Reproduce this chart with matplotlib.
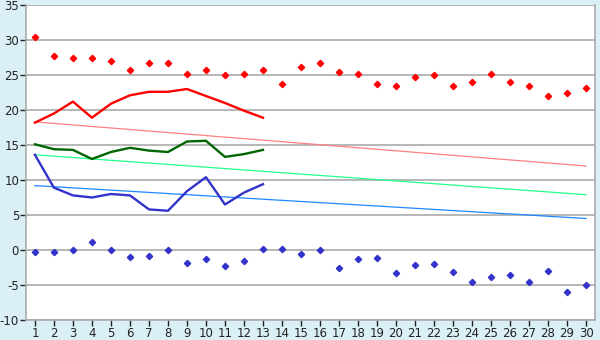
import matplotlib
matplotlib.use("Agg")
import matplotlib.pyplot as plt
import numpy as np

days = list(range(1, 31))
max_pts = [30.5, 27.7, 27.4, 27.4, 27.0, 25.7, 26.7, 26.7, 25.2, 25.7,
           25.0, 25.1, 25.7, 23.7, 26.2, 26.7, 25.5, 25.1, 23.7, 23.4,
           24.7, 25.0, 23.4, 24.0, 25.1, 24.0, 23.4, 22.0, 22.4, 23.1]
min_pts = [-0.3, -0.3, 0.0, 1.1, 0.0, -1.0, -0.8, 0.0, -1.9, -1.3,
           -2.3, -1.5, 0.1, 0.1, -0.5, 0.0, -2.6, -1.3, -1.2, -3.3,
           -2.2, -2.0, -3.2, -4.5, -3.9, -3.6, -4.6, -3.0, -6.0, -5.0]
line_days = list(range(1, 14))
red_line = [18.2, 19.5, 21.2, 18.9, 20.9, 22.1, 22.6, 22.6, 23.0, 22.0, 21.0, 19.9, 18.9]
green_line = [15.1, 14.4, 14.3, 13.0, 14.0, 14.6, 14.2, 14.0, 15.5, 15.6, 13.3, 13.7, 14.3]
blue_line = [13.6, 8.9, 7.8, 7.5, 8.0, 7.8, 5.8, 5.6, 8.4, 10.4, 6.5, 8.2, 9.4]
trend_days = [1, 30]
red_trend = [18.3, 12.0]
green_trend = [13.6, 7.9]
blue_trend = [9.2, 4.5]
yticks = [-10, -5, 0, 5, 10, 15, 20, 25, 30, 35]

bg = "#DAEFF6"
fig = plt.figure(figsize=(6, 3.4), dpi=100, facecolor=bg)
ax = fig.add_axes([26/600, 20/340, (595-26)/600, (320-5)/340])
ax.set_facecolor("white")

for y in yticks:
    ax.axhline(y, color="#AAAAAA", lw=1.2, zorder=1)

ax.plot(trend_days, red_trend, color="#FF8080", lw=0.9, zorder=2)
ax.plot(trend_days, green_trend, color="#22FF88", lw=0.9, zorder=2)
ax.plot(trend_days, blue_trend, color="#1E88FF", lw=0.9, zorder=2)

ax.plot(line_days, red_line, color="#FF0000", lw=1.7, zorder=3)
ax.plot(line_days, green_line, color="#006600", lw=1.7, zorder=3)
ax.plot(line_days, blue_line, color="#3333CC", lw=1.7, zorder=3)

ax.plot(days, max_pts, linestyle="none", marker="D", markersize=3.2,
        color="#FF0000", zorder=4)
ax.plot(days, min_pts, linestyle="none", marker="D", markersize=3.2,
        color="#3333CC", zorder=4)

ax.set_xlim(0.53, 30.47)
ax.set_ylim(-10, 35)
ax.set_xticks(days)
ax.set_xticklabels([str(d) for d in days])
ax.set_yticks(yticks)
ax.set_yticklabels([str(y) for y in yticks])
ax.tick_params(axis="both", labelsize=8.5, colors="#222222", width=1)
ax.tick_params(axis="x", length=4, pad=1)
ax.tick_params(axis="y", length=4, pad=1)
for s in ax.spines.values():
    s.set_color("#AAAAAA")
    s.set_linewidth(1.2)
ax.spines["top"].set_visible(False)

fig.savefig("out.png", dpi=100, facecolor=bg)
